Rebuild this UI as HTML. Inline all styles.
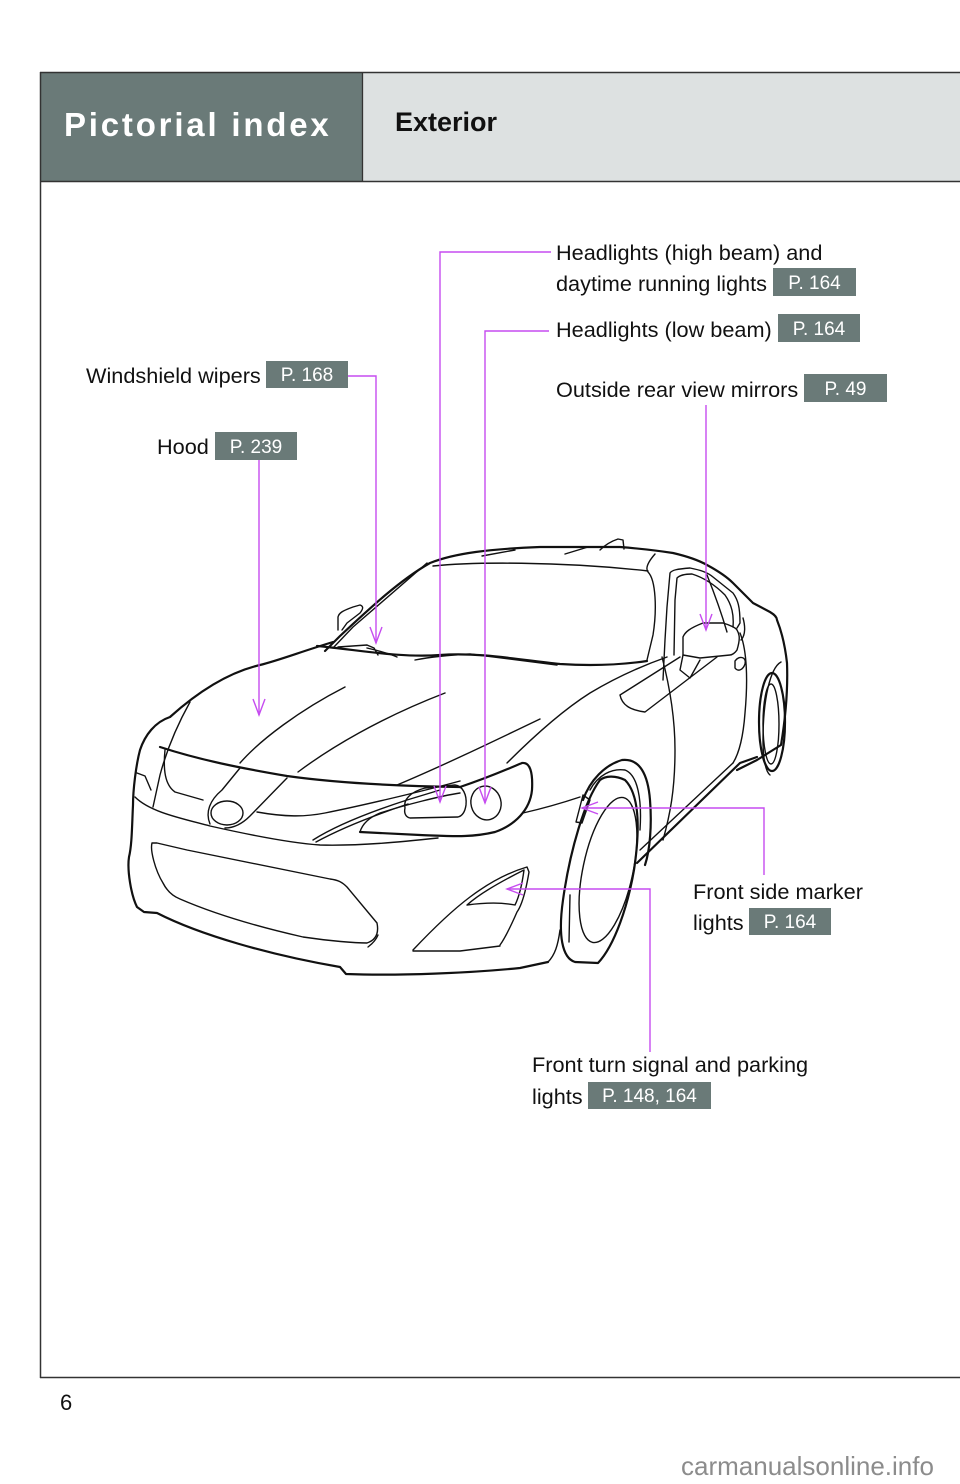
<!DOCTYPE html>
<html><head><meta charset="utf-8"><style>
html,body{margin:0;padding:0;background:#fff;}
svg{display:block;}
text{font-family:"Liberation Sans",Arial,sans-serif;}
</style></head><body>
<svg width="960" height="1484" viewBox="0 0 960 1484" xmlns="http://www.w3.org/2000/svg">
<rect x="0" y="0" width="960" height="1484" fill="#fff"/>
<!-- header -->
<rect x="41" y="73" width="321" height="109" fill="#6a7a78"/>
<rect x="362" y="73" width="598" height="109" fill="#dde1e1"/>
<line x1="362.5" y1="72" x2="362.5" y2="182" stroke="#333" stroke-width="1.3"/>
<line x1="40" y1="72.5" x2="960" y2="72.5" stroke="#333" stroke-width="1.5"/>
<line x1="40" y1="181.5" x2="960" y2="181.5" stroke="#333" stroke-width="1.5"/>
<line x1="40.5" y1="72" x2="40.5" y2="1378" stroke="#333" stroke-width="1.5"/>
<line x1="40" y1="1377.5" x2="960" y2="1377.5" stroke="#333" stroke-width="1.5"/>
<text x="64" y="136" font-size="33" font-weight="bold" fill="#fff" letter-spacing="2.8">Pictorial index</text>
<text x="395" y="131" font-size="27" font-weight="bold" fill="#111">Exterior</text>

<!-- labels -->
<g font-size="21.7" fill="#111">
<text x="556" y="260">Headlights (high beam) and</text>
<text x="556" y="291">daytime running lights</text>
<text x="556" y="337">Headlights (low beam)</text>
<text x="556" y="397">Outside rear view mirrors</text>
<text x="86" y="383">Windshield wipers</text>
<text x="157" y="454">Hood</text>
<text x="693" y="899">Front side marker</text>
<text x="693" y="930">lights</text>
<text x="532" y="1072">Front turn signal and parking</text>
<text x="532" y="1104">lights</text>
</g>
<g fill="#6a7a78">
<rect x="773" y="268" width="83" height="28"/>
<rect x="778" y="314" width="82" height="28"/>
<rect x="804" y="374" width="83" height="28"/>
<rect x="266" y="361" width="82" height="27"/>
<rect x="215" y="432" width="82" height="28"/>
<rect x="749" y="908" width="82" height="27"/>
<rect x="588" y="1082" width="123" height="27"/>
</g>
<g font-size="19" fill="#fff" text-anchor="middle">
<text x="814.5" y="289">P. 164</text>
<text x="819" y="335">P. 164</text>
<text x="845.5" y="395">P. 49</text>
<text x="307" y="381">P. 168</text>
<text x="256" y="453">P. 239</text>
<text x="790" y="928">P. 164</text>
<text x="649.5" y="1102">P. 148, 164</text>
</g>

<!-- car -->
<g fill="none" stroke="#111" stroke-linejoin="round" stroke-linecap="round">
<g stroke-width="2.2">
<!-- hood + front silhouette + bumper bottom -->
<path d="M333,642 C300,652 280,660 260,665 C230,672 200,690 170,717 C155,722 145,735 140,750 C136,765 133,790 133,805 C132,825 132,845 129,857 C127,870 131,895 137,907 L144,912 L157,913 C200,935 270,955 340,967 L346,974 C400,976 470,973 520,968 L548,962"/>
<!-- A-pillar + roof + rear -->
<path d="M325,651 L340,636 C370,608 400,580 430,563 C455,553 490,549 540,547 L620,547 C645,549 660,551 673,553 C690,557 700,561 707,565 C720,572 727,577 733,583 L753,603 L770,612 C775,615 777,618 777,620 C781,630 785,645 787,663 C788,690 786,715 781,745 L757,760 L737,770"/>
<!-- windshield inner / cowl -->
<path d="M317,646 C360,650 400,658 440,655 C480,652 520,660 560,664 C590,666 620,665 647,661"/>
<!-- front wheel arch -->
<path d="M583,800 C590,780 605,765 622,760 C640,758 648,775 650,800 C652,825 650,850 645,865"/>
<!-- tire -->
<path d="M600,780 C585,800 570,850 563,900 C558,935 562,958 575,962 L598,963 C615,945 628,905 634,870 C640,830 640,795 625,780 C615,775 605,776 600,780 Z"/>
<!-- side sill -->
<path d="M637,863 L740,763 L757,757"/>
<!-- rear wheel -->
<ellipse cx="772" cy="722" rx="13" ry="49"/>
<!-- headlight outline -->
<path d="M460,787 C490,777 510,768 522,763 C530,762 533,772 532,790 C530,810 515,825 495,832 C470,838 450,836 420,835 C400,834 380,833 360,832"/>
<!-- hood front edge -->
<path d="M160,747 C200,760 240,768 287,776 C330,782 390,786 460,787"/>
</g>
<g stroke-width="1.4">
<!-- windshield inner top -->
<path d="M433,566 C470,562 560,561 648,571"/>
<path d="M655,554 C648,562 645,568 648,572 C656,580 657,610 653,635 L647,660"/>
<path d="M333,648 L353,627 L427,563"/>
<!-- roof fin -->
<path d="M600,550 C605,545 612,541 618,539 L623,540 L624,549"/>
<path d="M482,556 L515,550 M565,554 L588,547"/>
<!-- left mirror -->
<path d="M338,630 L338,617 C339,613 342,611 353,607 L360,605 C363,606 364,608 360,613 L347,623 L342,630"/>
<!-- wipers -->
<path d="M338,647 L367,645 L374,648 L378,655 M367,648 C380,651 390,654 397,657"/>
<path d="M415,660 C430,657 450,655 470,654 L557,665"/>
<!-- hood creases -->
<path d="M240,763 C260,740 300,710 345,687"/>
<path d="M298,772 C330,748 380,718 445,693"/>
<path d="M397,785 C440,767 490,743 540,719"/>
<!-- left fender line -->
<path d="M190,702 C180,720 168,745 160,775 L153,807"/>
<path d="M137,773 L145,776 L151,790"/>
<!-- upper grille -->
<path d="M165,750 C163,770 165,785 175,792 L203,800"/>
<path d="M257,812 C285,817 305,817 325,813 C360,806 420,792 460,781"/>
<!-- emblem -->
<ellipse cx="227" cy="813" rx="16" ry="12"/>
<path d="M210,824 C205,812 210,800 222,790 L240,768"/>
<path d="M225,828 C235,828 243,823 250,816 L287,778"/>
<!-- bumper crease -->
<path d="M135,797 C150,812 180,818 210,826 C250,835 290,843 320,845 C360,846 400,842 438,838"/>
<!-- lower grille -->
<path d="M152,843 C150,850 155,870 163,883 C168,893 175,897 180,899 C210,912 250,925 303,937 C330,941 355,943 367,943 C376,940 379,933 377,923 L347,887 C342,882 338,880 330,879 C300,873 250,863 187,850 L157,843 Z"/>
<path d="M378,935 C376,940 372,944 368,947"/>
<!-- headlight inner -->
<path d="M313,840 C335,826 370,812 407,800 L440,790"/>
<path d="M316,842 C338,830 372,816 408,804"/>
<path d="M360,832 C362,825 368,818 380,813 C405,805 440,796 460,793"/>
<path d="M405,808 C403,800 410,792 425,788 L455,785 C463,786 467,795 466,805 C465,812 462,816 458,817 L410,818 C405,817 404,812 405,808 Z"/>
<ellipse cx="486" cy="803" rx="15" ry="17" transform="rotate(-15 486 803)"/>
<!-- under-headlight line -->
<path d="M523,813 C545,808 565,802 580,797"/>
<!-- side marker -->
<path d="M576,822 L583,795 L590,800 L582,823 Z"/>
<!-- front fender top line -->
<path d="M507,763 C530,740 560,712 590,693 C620,675 650,663 667,657"/>
<!-- inner arch -->
<path d="M590,790 C598,775 612,768 625,770 C638,775 642,800 640,830"/>
<!-- rim -->
<ellipse cx="608" cy="870" rx="25" ry="74" transform="rotate(12 608 870)"/>
<path d="M570,895 L569,942"/>
<path d="M548,962 C555,955 558,945 560,930"/>
<!-- turn signal -->
<path d="M413,950 C430,932 450,912 470,897 C490,882 510,872 527,867 L529,872 C526,890 522,905 517,912 C510,928 505,938 500,945"/>
<path d="M413,951 L460,951 L500,946"/>
<path d="M467,905 C478,895 500,882 524,870 C522,885 519,897 515,905 C505,903 490,902 467,905 Z"/>
<!-- side sill inner -->
<path d="M640,850 L733,763"/>
<!-- doors -->
<path d="M662,657 C668,680 675,715 675,750 C675,790 670,815 663,840"/>
<path d="M740,633 C747,650 748,680 745,713 C743,740 738,755 733,763"/>
<!-- door window -->
<path d="M663,680 L665,640 L667,607 L670,573 C672,570 677,569 690,568 C700,570 707,572 713,577 L733,593 C738,600 740,607 740,623 L737,628"/>
<path d="M674,655 L675,600 L677,578 C680,575 685,574 692,574 C705,578 715,585 725,595 C732,605 734,615 733,627"/>
<path d="M707,575 C715,595 722,615 727,632"/>
<path d="M743,618 C745,625 746,635 741,640"/>
<!-- mirror -->
<path d="M683,655 L683,637 C685,632 690,628 703,623 L723,623 C730,625 736,628 737,630 C740,635 740,640 737,650 C735,653 732,655 730,655 L700,658 Z"/>
<path d="M683,655 L680,670 L690,678 L700,660"/>
<!-- side vent -->
<path d="M620,695 L680,657 M620,695 C622,705 630,710 645,712 L717,657"/>
<!-- keyhole -->
<path d="M735,661 C739,655 747,657 745,664 C743,670 738,672 735,668 Z"/>
<!-- rear wheel inner -->
<ellipse cx="771" cy="724" rx="8" ry="40"/>
<path d="M781,662 C770,668 763,700 763,740 C763,760 766,772 770,775"/>
</g>
</g>

<!-- connectors -->
<g fill="none" stroke="#c64cf0" stroke-width="1.4">
<path d="M551,252 H440 V802"/>
<path d="M434,786 L440,802 L446,786"/>
<path d="M549,331 H485 V803"/>
<path d="M479,787 L485,803 L491,787"/>
<path d="M706,405 V630"/>
<path d="M700,614 L706,630 L712,614"/>
<path d="M348,376 H376 V643"/>
<path d="M370,627 L376,643 L382,627"/>
<path d="M259,460 V715"/>
<path d="M253,699 L259,715 L265,699"/>
<path d="M764,875 V808 H582"/>
<path d="M598,802 L582,808 L598,814"/>
<path d="M650,1052 V889 H507"/>
<path d="M523,883 L507,889 L523,895"/>
</g>

<text x="60" y="1410" font-size="22" fill="#111">6</text>
<text x="681" y="1475" font-size="26" fill="#8c8c8c">carmanualsonline.info</text>
</svg>
</body></html>
